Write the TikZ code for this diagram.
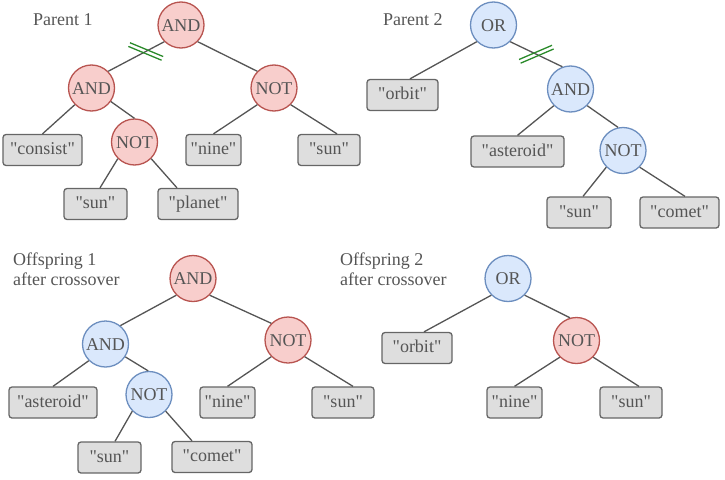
\documentclass[tikz,border=0pt]{standalone}
\usepackage{fontspec}
\setmainfont{Liberation Serif}
\newfontfamily\plainserif{Liberation Serif}
\usetikzlibrary{calc}
\definecolor{txt}{HTML}{555555}
\definecolor{redfill}{HTML}{F8CECC}
\definecolor{redline}{HTML}{B85450}
\definecolor{bluefill}{HTML}{DAE8FC}
\definecolor{blueline}{HTML}{6C8EBF}
\definecolor{boxfill}{HTML}{DEDEDE}
\definecolor{boxline}{HTML}{666666}
\definecolor{edgecol}{HTML}{555555}
\definecolor{cutgreen}{HTML}{2A8A2A}
\tikzset{
  opnode/.style={circle, minimum size=46pt, inner sep=0pt, line width=1.3pt, text=txt, text height=12.5pt, text depth=0pt},
  opred/.style={opnode, draw=redline, fill=redfill},
  opblue/.style={opnode, draw=blueline, fill=bluefill},
  leaf/.style={rectangle, rounded corners=3pt, draw=boxline, fill=boxfill, line width=1.3pt, minimum height=31pt, inner sep=0pt, text=txt, text height=12.5pt, text depth=3.5pt},
  link/.style={draw=edgecol, line width=1.3pt},
  cutmark/.style={draw=cutgreen, line width=1.3pt},
  lbl/.style={text=txt, inner sep=0pt, anchor=base west},
  lbltwo/.style={text=txt, inner sep=0pt, anchor=north west, align=left, font=\plainserif\fontsize{18}{20}\selectfont}
}
\begin{document}
\begin{tikzpicture}[x=1pt, y=-1pt, font=\plainserif\fontsize{18}{20}\selectfont]
\useasboundingbox (0,0) rectangle (725,479);

% ---------- labels ----------
\node[lbl] (lp1) at (33,25) {Parent 1};
\node[lbl] (lp2) at (383,25) {Parent 2};
\node[lbltwo] (lo1) at (13,252.5) {Offspring 1\\after crossover};
\node[lbltwo] (lo2) at (340,252.5) {Offspring 2\\after crossover};

% ---------- Parent 1 ----------
\node[opred] (and1) at (181,25) {AND};
\node[opred] (and1l) at (91.5,88) {AND};
\node[opred] (not1r) at (274,88) {NOT};
\node[opred] (not1m) at (134.5,142) {NOT};
\node[leaf, minimum width=79pt] (consist) at (42.5,150) {"consist"};
\node[leaf, minimum width=55pt] (nine1) at (213.5,150) {"nine"};
\node[leaf, minimum width=62pt] (sun1r) at (329,150) {"sun"};
\node[leaf, minimum width=63pt] (sun1) at (95.5,204) {"sun"};
\node[leaf, minimum width=80pt] (planet) at (198,204) {"planet"};

\draw[link] (and1.225) -- (and1l.45);
\draw[link] (and1.315) -- (not1r.135);
\draw[link] (and1l.225) -- (consist.north);
\draw[link] (and1l.-35) -- (not1m.90);
\draw[link] (not1m.225) -- ([xshift=4.5pt]sun1.north);
\draw[link] (not1m.315) -- ([xshift=-21pt]planet.north);
\draw[link] (not1r.225) -- (nine1.north);
\draw[link] (not1r.315) -- ([xshift=8pt]sun1r.north);

\path (and1.225) -- (and1l.45) coordinate[pos=0.33] (cutA);
\draw[cutmark] ($(cutA)+(-15.8,-8.75)$) -- ($(cutA)+(17.4,5.05)$);
\draw[cutmark] ($(cutA)+(-17.4,-5.05)$) -- ($(cutA)+(15.8,8.75)$);

% ---------- Parent 2 ----------
\node[opblue] (or2) at (493.5,25) {OR};
\node[opblue] (and2) at (570.5,89) {AND};
\node[opblue] (not2) at (623,150.5) {NOT};
\node[leaf, minimum width=71pt] (orbit2) at (402.5,95) {"orbit"};
\node[leaf, minimum width=93pt] (asteroid2) at (517.5,151.5) {"asteroid"};
\node[leaf, minimum width=64pt] (sun2) at (579,212.5) {"sun"};
\node[leaf, minimum width=79pt] (comet2) at (679.5,212.5) {"comet"};

\draw[link] (or2.225) -- ([xshift=7.5pt]orbit2.north);
\draw[link] (or2.315) -- (and2.110);
\draw[link] (and2.225) -- (asteroid2.north);
\draw[link] (and2.315) -- (not2.102);
\draw[link] (not2.225) -- ([xshift=4pt]sun2.north);
\draw[link] (not2.315) -- ([xshift=5.5pt]comet2.north);

\path (or2.315) -- (and2.110) coordinate[pos=0.5] (cutB);
\draw[cutmark] ($(cutB)+(-17.3,5.26)$) -- ($(cutB)+(15.7,-8.94)$);
\draw[cutmark] ($(cutB)+(-15.7,8.94)$) -- ($(cutB)+(17.3,-5.26)$);

% ---------- Offspring 1 ----------
\node[opred] (and3) at (193,278.5) {AND};
\node[opblue] (and3l) at (105.5,344) {AND};
\node[opred] (not3r) at (288,340) {NOT};
\node[opblue] (not3m) at (149,394.5) {NOT};
\node[leaf, minimum width=88pt] (asteroid3) at (53,402.5) {"asteroid"};
\node[leaf, minimum width=55pt] (nine3) at (227.5,402.5) {"nine"};
\node[leaf, minimum width=62pt] (sun3r) at (343,402.5) {"sun"};
\node[leaf, minimum width=63pt] (sun3) at (109.5,457.5) {"sun"};
\node[leaf, minimum width=80pt] (comet3) at (212,457) {"comet"};

\draw[link] (and3.225) -- (and3l.51);
\draw[link] (and3.315) -- (not3r.135);
\draw[link] (and3l.225) -- (asteroid3.north);
\draw[link] (and3l.-33) -- (not3m.92);
\draw[link] (not3m.225) -- ([xshift=5.5pt]sun3.north);
\draw[link] (not3m.315) -- ([xshift=-20pt]comet3.north);
\draw[link] (not3r.225) -- (nine3.north);
\draw[link] (not3r.315) -- ([xshift=10pt]sun3r.north);

% ---------- Offspring 2 ----------
\node[opblue] (or4) at (508,278.5) {OR};
\node[opred] (not4) at (576.5,340.5) {NOT};
\node[leaf, minimum width=70pt] (orbit4) at (417,348) {"orbit"};
\node[leaf, minimum width=55pt] (nine4) at (514.5,402.5) {"nine"};
\node[leaf, minimum width=62pt] (sun4) at (631,402.5) {"sun"};

\draw[link] (or4.225) -- ([xshift=7pt]orbit4.north);
\draw[link] (or4.315) -- (not4.106);
\draw[link] (not4.225) -- (nine4.north);
\draw[link] (not4.315) -- ([xshift=8pt]sun4.north);
\end{tikzpicture}
\end{document}
